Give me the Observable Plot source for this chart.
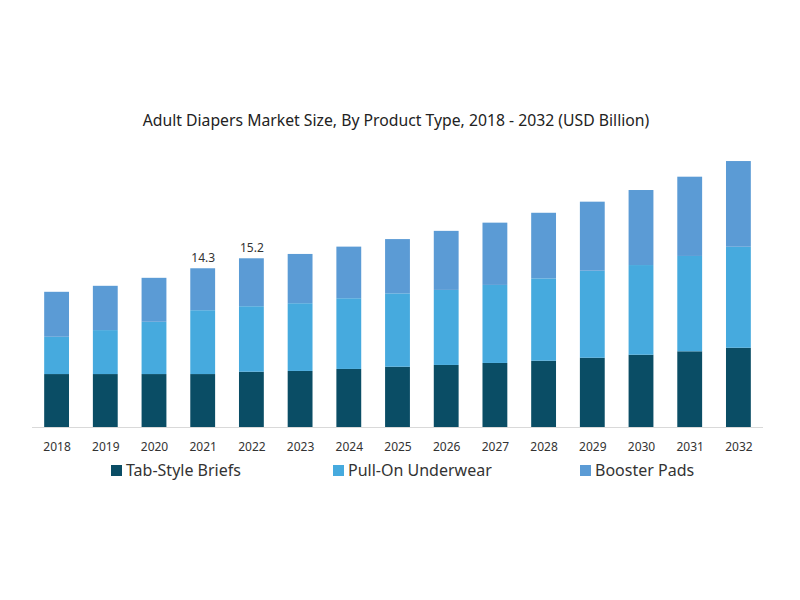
<!DOCTYPE html>
<html>
<head>
<meta charset="utf-8">
<script src="https://cdn.jsdelivr.net/npm/d3@7"></script>
<script src="https://cdn.jsdelivr.net/npm/@observablehq/plot@0.6"></script>
<style>
  html, body { margin: 0; padding: 0; background: #fff; }
  #wrap { position: relative; width: 800px; height: 600px; font-family: "Noto Sans", sans-serif; color: #222; }
  #title { position: absolute; top: 109px; left: 0; width: 792px; text-align: center; font-size: 15.75px; color: #222; }
  #chart { position: absolute; top: 150px; left: 0; }
  .leg { position: absolute; top: 459px; font-size: 16px; color: #333; display: flex; align-items: center; white-space: nowrap; }
  .sw { width: 11px; height: 11px; margin-right: 4px; display: inline-block; }
</style>
</head>
<body>
<div id="wrap">
  <div id="title">Adult Diapers Market Size, By Product Type, 2018 - 2032 (USD Billion)</div>
  <div id="chart"></div>
  <div id="legend"></div>
</div>
<script>
const years = ["2018","2019","2020","2021","2022","2023","2024","2025","2026","2027","2028","2029","2030","2031","2032"];
const seriesNames = ["Tab-Style Briefs", "Pull-On Underwear", "Booster Pads"];
const seriesColors = ["#0a4d65", "#46aade", "#5b9bd5"];
const tabStyle = [4.77,4.77,4.77,4.77,4.98,5.05,5.23,5.43,5.59,5.77,5.97,6.24,6.51,6.82,7.14];
const pullOn   = [3.36,3.96,4.71,5.75,5.90,6.10,6.37,6.61,6.76,7.03,7.42,7.84,8.08,8.59,9.10];
const booster  = [4.05,3.99,3.96,3.78,4.32,4.44,4.65,4.89,5.32,5.61,5.91,6.22,6.76,7.14,7.72];
const labelYears = ["2021", "2022"];
const labelValues = [14.3, 15.2];

const seriesValues = [tabStyle, pullOn, booster];
const data = [];
seriesNames.forEach((s, i) => years.forEach((y, j) => data.push({year: y, series: s, value: seriesValues[i][j]})));
const labels = labelYears.map((y, i) => ({year: y, value: labelValues[i], text: String(labelValues[i])}));

const chart = Plot.plot({
  width: 800,
  height: 310,
  marginLeft: 32,
  marginRight: 37,
  marginTop: 10.6,
  marginBottom: 33,
  style: {fontFamily: "Noto Sans, sans-serif", fontSize: "12px", color: "#333", background: "#fff"},
  x: {domain: years, paddingInner: 0.49, paddingOuter: 0.25, round: false, label: null},
  y: {domain: [0, 24], axis: null},
  color: {domain: seriesNames, range: seriesColors},
  marks: [
    Plot.barY(data, {x: "year", y: "value", fill: "series"}),
    Plot.ruleY([0], {stroke: "#d9d9d9", strokeWidth: 1}),
    Plot.text(labels, {x: "year", y: "value", text: "text", dy: -11, fontSize: 12, fill: "#333"}),
    Plot.axisX({tickSize: 0, tickPadding: 15, fontSize: 12, fill: "#333", label: null})
  ]
});
document.getElementById("chart").appendChild(chart);

const legendLefts = [111, 333, 580];
const legend = document.getElementById("legend");
seriesNames.forEach((s, i) => {
  const d = document.createElement("div");
  d.className = "leg";
  d.style.left = legendLefts[i] + "px";
  d.innerHTML = `<span class="sw" style="background:${seriesColors[i]}"></span><span>${s}</span>`;
  legend.appendChild(d);
});
</script>
</body>
</html>
